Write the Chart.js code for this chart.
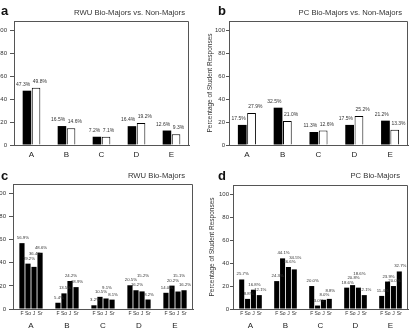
<!DOCTYPE html>
<html><head><meta charset="utf-8">
<script src="https://cdn.jsdelivr.net/npm/chart.js@4.4.1/dist/chart.umd.min.js"></script>
<style>
html,body{margin:0;padding:0;background:#fff;width:410px;height:333px;overflow:hidden;position:relative;font-family:"Liberation Sans",Arial,sans-serif;}
canvas{position:absolute;}
.lbl{position:absolute;font-weight:bold;font-size:13px;color:#111;line-height:1;}
.title{position:absolute;font-size:7.7px;color:#333;white-space:nowrap;line-height:1;}
.ytitle{position:absolute;font-size:6.5px;color:#333;white-space:nowrap;line-height:1;transform:translate(-50%,-50%) rotate(-90deg);}
</style></head>
<body>
<canvas id="ca" width="205" height="165" style="left:0;top:0"></canvas>
<canvas id="cb" width="205" height="165" style="left:205px;top:0"></canvas>
<canvas id="cc" width="205" height="168" style="left:0;top:165px"></canvas>
<canvas id="cd" width="205" height="168" style="left:205px;top:165px"></canvas>
<div class="lbl" style="left:1px;top:4px">a</div>
<div class="lbl" style="left:218px;top:4px">b</div>
<div class="lbl" style="left:1px;top:169px">c</div>
<div class="lbl" style="left:218px;top:169px">d</div>
<div class="title" style="right:225px;top:9px">RWU Bio-Majors vs. Non-Majors</div>
<div class="title" style="right:8px;top:9px">PC Bio-Majors vs. Non-Majors</div>
<div class="title" style="right:225px;top:172px">RWU Bio-Majors</div>
<div class="title" style="right:10px;top:172px">PC Bio-Majors</div>
<div class="ytitle" style="left:210px;top:83px">Percentage of Student Responses</div>
<div class="ytitle" style="left:212px;top:247px">Percentage of Student Responses</div>
<script>
// ---- data ----
const categories = ['A', 'B', 'C', 'D', 'E'];
const yTicks = [0, 20, 40, 60, 80, 100];
const rwuBioMajors = [47.3, 16.5, 7.2, 16.4, 12.6];
const rwuNonMajors = [49.8, 14.6, 7.1, 19.2, 9.3];
const pcBioMajors = [17.5, 32.5, 11.3, 17.5, 21.2];
const pcNonMajors = [27.9, 21.0, 12.6, 25.2, 13.3];
const classYears = ['F', 'So', 'J', 'Sr'];
const rwuFreshman = [56.9, 5.4, 3.2, 20.5, 14.0];
const rwuSophomore = [39.2, 13.5, 10.5, 16.2, 20.2];
const rwuJunior = [36.4, 24.2, 9.1, 15.2, 15.1];
const rwuSenior = [48.6, 18.9, 8.1, 8.2, 16.2];
const pcFreshman = [25.7, 24.3, 20.0, 18.6, 11.4];
const pcSophomore = [8.8, 44.1, 3.0, 20.8, 23.9];
const pcJunior = [16.8, 36.6, 8.0, 18.6, 20.0];
const pcSenior = [12.1, 34.5, 8.8, 12.1, 32.7];

const FONT = '"Liberation Sans", Arial, sans-serif';
const AXIS = '#555';

const framePlugin = {
  id: 'frame',
  afterDraw(chart) {
    const a = chart.chartArea, ctx = chart.ctx;
    ctx.save();
    ctx.strokeStyle = AXIS; ctx.lineWidth = 1;
    ctx.beginPath();
    ctx.moveTo(Math.round(a.left), Math.round(a.top) + 0.5);
    ctx.lineTo(Math.round(a.right) - 0.5, Math.round(a.top) + 0.5);
    ctx.lineTo(Math.round(a.right) - 0.5, Math.round(a.bottom));
    ctx.stroke();
    ctx.restore();
  }
};

const valueLabelPlugin = {
  id: 'valueLabels',
  afterDatasetsDraw(chart, args, o) {
    const ctx = chart.ctx;
    ctx.save();
    ctx.font = o.size + 'px ' + FONT;
    ctx.fillStyle = '#333';
    ctx.textBaseline = 'alphabetic';
    const placed = [];
    const n = chart.data.labels.length;
    const nd = chart.data.datasets.length;
    for (let i = 0; i < n; i++) {
      for (let di = 0; di < nd; di++) {
        const ds = chart.data.datasets[di];
        const el = chart.getDatasetMeta(di).data[i];
        const txt = ds.data[i].toFixed(1) + '%';
        const w = ctx.measureText(txt).width;
        let cx;
        if (o.mode === 'pair') {
          const half = el.width / 2;
          cx = di === 0 ? el.x + half - 1 - w / 2 : el.x - half + 1 + w / 2;
        } else {
          cx = el.x + 1;
        }
        let base = el.y - o.gap;
        const h = o.size * 0.8;
        let guard = 0, moved = true;
        while (moved && guard < 100) {
          moved = false;
          for (const p of placed) {
            if (Math.abs(cx - p.cx) < (w + p.w) / 2 && base > p.base - h - 0.5 && base - h < p.base + 0.5) {
              base = p.base - h - 0.8; moved = true;
            }
          }
          guard++;
        }
        placed.push({cx, w, base});
        ctx.textAlign = 'center';
        ctx.fillText(txt, cx, base);
      }
    }
    ctx.restore();
  }
};

const subLabelPlugin = {
  id: 'subLabels',
  afterDraw(chart, args, o) {
    if (!o.labels) return;
    const ctx = chart.ctx;
    ctx.save();
    ctx.font = o.size + 'px ' + FONT;
    ctx.fillStyle = '#333';
    ctx.textAlign = 'center';
    ctx.textBaseline = 'middle';
    chart.data.datasets.forEach((ds, di) => {
      chart.getDatasetMeta(di).data.forEach(el => {
        ctx.fillText(o.labels[di], el.x, chart.chartArea.bottom + o.offset);
      });
    });
    ctx.restore();
  }
};

function makeChart(id, g, datasets, extra) {
  const canvas = document.getElementById(id);
  return new Chart(canvas, {
    type: 'bar',
    data: { labels: categories, datasets },
    options: {
      responsive: false,
      animation: false,
      devicePixelRatio: 1,
      layout: { padding: { left: 0, right: g.w - g.R, top: g.T, bottom: 0 } },
      plugins: {
        legend: { display: false },
        tooltip: { enabled: false },
        title: { display: false },
        valueLabels: extra.valueLabels,
        subLabels: extra.subLabels || {}
      },
      scales: {
        x: {
          grid: { display: true, drawOnChartArea: false, drawTicks: false, color: AXIS },
          border: { display: true, color: AXIS, width: 1 },
          ticks: { font: { family: FONT, size: 8 }, color: '#222', padding: extra.xPad },
          afterFit(s) { s.height = g.h - g.B; }
        },
        y: {
          min: 0, max: 108,
          grid: { display: true, drawOnChartArea: false, drawTicks: true, tickLength: extra.yTickLen, color: AXIS },
          border: { display: true, color: AXIS, width: 1 },
          ticks: {
            stepSize: 20, includeBounds: false,
            font: { family: FONT, size: 6 }, color: '#333', padding: extra.yPad,
            callback: v => yTicks.includes(v) ? String(v) : ''
          },
          afterFit(s) { s.width = g.L; }
        }
      }
    },
    plugins: [framePlugin, valueLabelPlugin, subLabelPlugin]
  });
}

const black = { backgroundColor: '#000', borderWidth: 0 };
const white = { backgroundColor: '#fff', borderColor: '#000', borderWidth: 1 };

const pairOpts = { categoryPercentage: 0.52, barPercentage: 0.94 };
const quadOpts = { categoryPercentage: 0.67, barPercentage: 0.86 };

makeChart('ca', { w: 205, h: 165, L: 14, R: 189, T: 21, B: 145 }, [
  Object.assign({ label: 'RWU Bio-Majors', data: rwuBioMajors }, black, pairOpts),
  Object.assign({ label: 'RWU Non-Majors', data: rwuNonMajors }, white, pairOpts)
], { xPad: 5, yTickLen: 4, yPad: 3, valueLabels: { size: 5, gap: 5, mode: 'pair' } });

makeChart('cb', { w: 205, h: 165, L: 24, R: 203, T: 21, B: 145 }, [
  Object.assign({ label: 'PC Bio-Majors', data: pcBioMajors }, black, pairOpts),
  Object.assign({ label: 'PC Non-Majors', data: pcNonMajors }, white, pairOpts)
], { xPad: 5, yTickLen: 3, yPad: 1, valueLabels: { size: 5, gap: 5, mode: 'pair' } });

const rwuYears = [rwuFreshman, rwuSophomore, rwuJunior, rwuSenior];
const pcYears = [pcFreshman, pcSophomore, pcJunior, pcSenior];

makeChart('cc', { w: 205, h: 168, L: 13, R: 193, T: 19, B: 144 },
  rwuYears.map((d, i) => Object.assign({ label: classYears[i], data: d }, black, quadOpts)),
  { xPad: 12, yTickLen: 4, yPad: 3, valueLabels: { size: 4.3, gap: 4, mode: 'center' }, subLabels: { labels: classYears, size: 5, offset: 5 } });

makeChart('cd', { w: 205, h: 168, L: 28, R: 203, T: 20, B: 144 },
  pcYears.map((d, i) => Object.assign({ label: classYears[i], data: d }, black, quadOpts)),
  { xPad: 12, yTickLen: 3, yPad: 1, valueLabels: { size: 4.3, gap: 4, mode: 'center' }, subLabels: { labels: classYears, size: 5, offset: 5 } });
</script>
</body></html>
